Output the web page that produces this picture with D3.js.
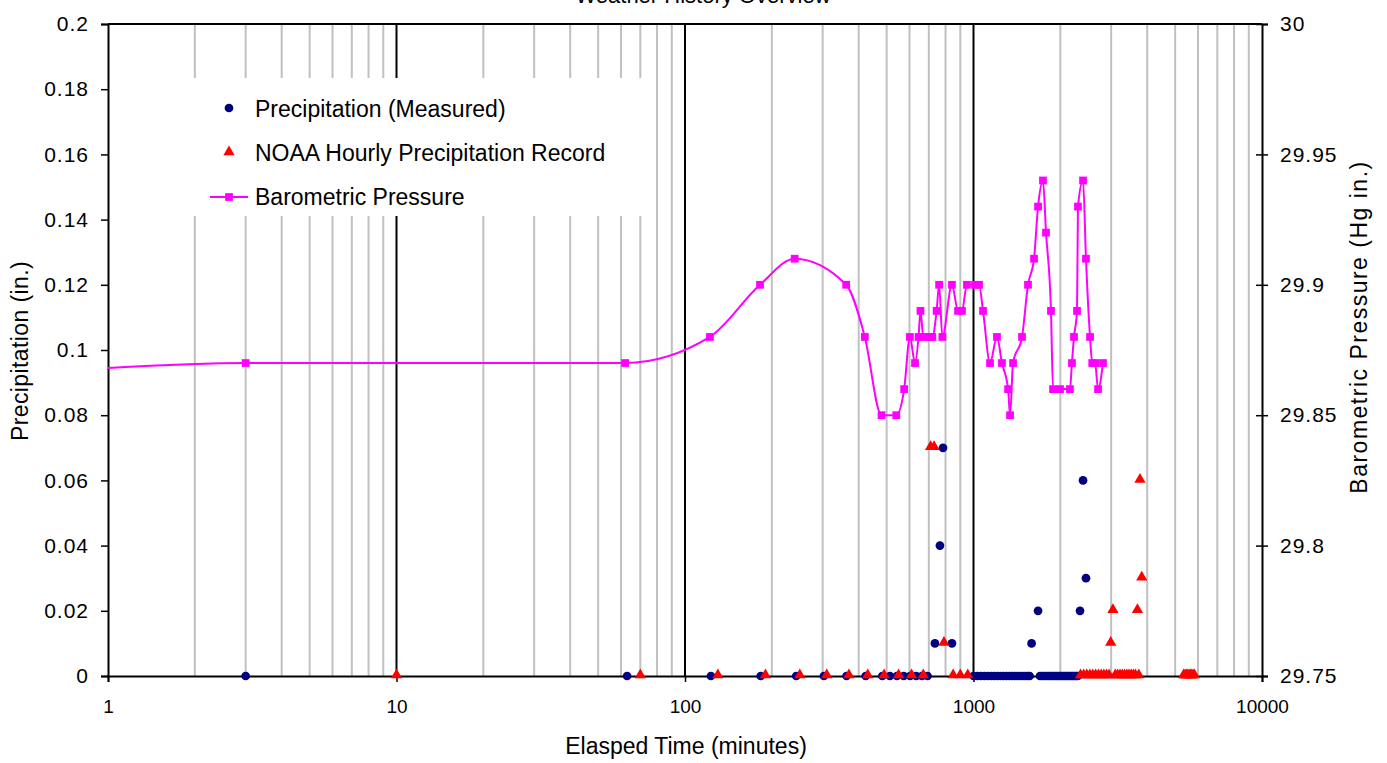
<!DOCTYPE html>
<html>
<head>
<meta charset="utf-8">
<script src="https://cdn.jsdelivr.net/npm/d3@7"></script>
<style>
  body { margin: 0; background: #fff; }
  text { font-family: "Liberation Sans", Arial, sans-serif; fill: #000; }
</style>
</head>
<body>
<svg></svg>
<script>
//Set Dimensions of svg
var width = 1387;
var height = 763;
var svg = d3.select('svg')
            .attr('width', width)
            .attr('height', height);

//Plot area
var plotLeft = 108, plotRight = 1262, plotTop = 24, plotBottom = 676;

//Tick labels
var xTicks = [1, 10, 100, 1000, 10000];
var precipTicks = [0, 0.02, 0.04, 0.06, 0.08, 0.1, 0.12, 0.14, 0.16, 0.18, 0.2];
var pressTicks = [29.75, 29.8, 29.85, 29.9, 29.95, 30];

//Precipitation (Measured)
var measTime = [3, 63, 123, 183, 243, 303, 363, 423, 483, 513, 543, 573, 603, 633, 663, 693,
  735, 765, 784, 842,
  1000, 1030, 1060, 1090, 1120, 1150, 1180, 1210, 1240, 1270, 1300, 1330, 1360, 1390, 1420,
  1450, 1480, 1510, 1540, 1565, 1590, 1674,
  1700, 1730, 1760, 1790, 1820, 1850, 1880, 1910, 1940, 1970, 2000, 2030, 2060, 2090, 2120,
  2150, 2180, 2210, 2240, 2270, 2300, 2340, 2397, 2454];
var measVal = [0, 0, 0, 0, 0, 0, 0, 0, 0, 0, 0, 0, 0, 0, 0, 0,
  0.01, 0.04, 0.07, 0.01,
  0, 0, 0, 0, 0, 0, 0, 0, 0, 0, 0, 0, 0, 0, 0,
  0, 0, 0, 0, 0, 0.01, 0.02,
  0, 0, 0, 0, 0, 0, 0, 0, 0, 0, 0, 0, 0, 0, 0,
  0, 0, 0, 0, 0, 0, 0.02, 0.06, 0.03];

//NOAA Hourly Precipitation Record
var noaaTime = [10, 70, 130, 190, 250, 310, 370, 430, 490, 550, 610, 670, 710, 730, 790, 850, 900, 955,
  2350, 2410, 2470, 2530, 2590, 2650, 2710, 2770, 2830, 2890, 2950, 2990, 3043,
  3100, 3160, 3220, 3280, 3340, 3400, 3460, 3520, 3580, 3640, 3700, 3740, 3776, 3830,
  5350, 5410, 5470, 5530, 5590, 5650, 5710, 5770, 5830];
var noaaVal = [0, 0, 0, 0, 0, 0, 0, 0, 0, 0, 0, 0, 0.07, 0.07, 0.01, 0, 0, 0,
  0, 0, 0, 0, 0, 0, 0, 0, 0, 0, 0, 0.01, 0.02,
  0, 0, 0, 0, 0, 0, 0, 0, 0, 0, 0.02, 0, 0.06, 0.03,
  0, 0, 0, 0, 0, 0, 0, 0, 0];

//Barometric Pressure
var pressTime = [0.95, 3, 62, 122, 182, 240, 362, 420, 480, 540,
  575, 602, 627, 645, 655, 670, 690, 705, 720, 745,
  760, 780, 842, 884, 912, 949, 1012, 1045, 1079, 1141,
  1206, 1255, 1318, 1339, 1371, 1473, 1545, 1621, 1674, 1741,
  1784, 1856, 1887, 1995, 2159, 2194, 2230, 2285, 2302, 2397,
  2454, 2535, 2580, 2640, 2702, 2811];
var pressVal = [29.868, 29.87, 29.87, 29.88, 29.90, 29.91, 29.90, 29.88, 29.85, 29.85,
  29.86, 29.88, 29.87, 29.88, 29.89, 29.88, 29.88, 29.88, 29.88, 29.89,
  29.90, 29.88, 29.90, 29.89, 29.89, 29.90, 29.90, 29.90, 29.89, 29.87,
  29.88, 29.87, 29.86, 29.85, 29.87, 29.88, 29.90, 29.91, 29.93, 29.94,
  29.92, 29.89, 29.86, 29.86, 29.86, 29.87, 29.88, 29.89, 29.93, 29.94,
  29.91, 29.88, 29.87, 29.87, 29.86, 29.87];

var measured = measTime.map((t, i) => ({t: t, v: measVal[i]}));
var noaa = noaaTime.map((t, i) => ({t: t, v: noaaVal[i]}));
var pressure = pressTime.map((t, i) => ({t: t, v: pressVal[i]}));

//Scales
var x = d3.scaleLog().domain([1, 10000]).range([plotLeft, plotRight]);
var yL = d3.scaleLinear().domain([0, 0.2]).range([plotBottom, plotTop]);
var yR = d3.scaleLinear().domain([29.75, 30]).range([plotBottom, plotTop]);

//Partial title, cut off at the top edge
svg.append('text')
   .attr('x', 703).attr('y', 3)
   .attr('text-anchor', 'middle')
   .style('font-size', '22px')
   .text('Weather History Overview');

//Vertical gridlines (minor grey, decades black)
var grid = svg.append('g');
grid.selectAll('line.minor')
    .data(x.ticks().filter(d => Math.abs(Math.log10(d) % 1) > 1e-6))
    .enter().append('line')
    .attr('class', 'minor')
    .attr('x1', d => x(d)).attr('x2', d => x(d))
    .attr('y1', plotTop).attr('y2', plotBottom)
    .attr('stroke', '#c0c0c0').attr('stroke-width', 2);
grid.selectAll('line.major')
    .data([10, 100, 1000])
    .enter().append('line')
    .attr('class', 'major')
    .attr('x1', d => x(d)).attr('x2', d => x(d))
    .attr('y1', plotTop).attr('y2', plotBottom)
    .attr('stroke', '#000').attr('stroke-width', 2);

//Top border
svg.append('line')
   .attr('x1', plotLeft).attr('x2', plotRight)
   .attr('y1', plotTop).attr('y2', plotTop)
   .attr('stroke', '#000').attr('stroke-width', 2);

//Legend background hides the gridlines
svg.append('rect')
   .attr('x', 186).attr('y', 78)
   .attr('width', 464).attr('height', 138)
   .attr('fill', '#fff');

//Axes
var axL = svg.append('g')
   .attr('transform', 'translate(' + plotLeft + ',0)')
   .call(d3.axisLeft(yL).tickValues(precipTicks).tickFormat(d => String(d)).tickSize(7).tickPadding(12));
var axR = svg.append('g')
   .attr('transform', 'translate(' + plotRight + ',0)')
   .call(d3.axisRight(yR).tickValues(pressTicks).tickFormat(d => String(d)).tickSize(6).tickPadding(12));
axR.selectAll('.tick line').attr('x1', -6);
var axB = svg.append('g')
   .attr('transform', 'translate(0,' + plotBottom + ')')
   .call(d3.axisBottom(x).tickValues(xTicks).tickFormat(d => String(d)).tickSize(6).tickPadding(18));

[axL, axR, axB].forEach(function(a) {
  a.select('.domain').attr('stroke', '#000').attr('stroke-width', 2);
  a.selectAll('.tick line').attr('stroke', '#000').attr('stroke-width', 1.5);
  a.selectAll('.tick text')
   .style('font-family', '"Liberation Sans", Arial, sans-serif')
   .style('font-size', '21px')
   .style('letter-spacing', '1px')
   .attr('fill', '#000');
});
axB.selectAll('.tick text').style('font-size', '19px').style('letter-spacing', '0px');

//Axis titles
svg.append('text')
   .attr('transform', 'translate(28,351) rotate(-90)')
   .attr('text-anchor', 'middle')
   .style('font-size', '23px')
   .style('letter-spacing', '0.4px')
   .text('Precipitation (in.)');
svg.append('text')
   .attr('transform', 'translate(1367,327) rotate(-90)')
   .attr('text-anchor', 'middle')
   .style('font-size', '23px')
   .style('letter-spacing', '1.5px')
   .text('Barometric Pressure (Hg in.)');
svg.append('text')
   .attr('x', 686).attr('y', 754)
   .attr('text-anchor', 'middle')
   .style('font-size', '23px')
   .text('Elasped Time (minutes)');

//Clip data to the plot area
svg.append('clipPath').attr('id', 'plot')
   .append('rect')
   .attr('x', plotLeft).attr('y', plotTop - 6)
   .attr('width', plotRight - plotLeft).attr('height', plotBottom - plotTop + 12);

var data = svg.append('g').attr('clip-path', 'url(#plot)');

//Barometric pressure line and markers
var pressLine = d3.line()
    .x(d => x(d.t))
    .y(d => yR(d.v))
    .curve(d3.curveMonotoneX);

data.append('path')
    .datum(pressure)
    .attr('d', pressLine)
    .attr('fill', 'none')
    .attr('stroke', '#ff00ff')
    .attr('stroke-width', 2);

var square = d3.symbol().type(d3.symbolSquare).size(60);
data.selectAll('path.press')
    .data(pressure)
    .enter().append('path')
    .attr('class', 'press')
    .attr('d', square)
    .attr('transform', d => 'translate(' + x(d.t) + ',' + yR(d.v) + ')')
    .attr('fill', '#ff00ff');

//Measured precipitation
var circle = d3.symbol().type(d3.symbolCircle).size(60);
data.selectAll('path.meas')
    .data(measured)
    .enter().append('path')
    .attr('class', 'meas')
    .attr('d', circle)
    .attr('transform', d => 'translate(' + x(d.t) + ',' + yL(d.v) + ')')
    .attr('fill', '#000080');

//NOAA hourly record
var tri = d3.symbol().type(d3.symbolTriangle).size(55);
data.selectAll('path.noaa')
    .data(noaa)
    .enter().append('path')
    .attr('class', 'noaa')
    .attr('d', tri)
    .attr('transform', d => 'translate(' + x(d.t) + ',' + (yL(d.v) - 1) + ')')
    .attr('fill', '#ff0000');

//Legend
var legend = svg.append('g');
legend.append('path')
      .attr('d', circle)
      .attr('transform', 'translate(229,108)')
      .attr('fill', '#000080');
legend.append('path')
      .attr('d', tri)
      .attr('transform', 'translate(229,152)')
      .attr('fill', '#ff0000');
legend.append('line')
      .attr('x1', 210).attr('x2', 248)
      .attr('y1', 197).attr('y2', 197)
      .attr('stroke', '#ff00ff').attr('stroke-width', 2);
legend.append('path')
      .attr('d', square)
      .attr('transform', 'translate(229,197)')
      .attr('fill', '#ff00ff');

var legendText = ['Precipitation (Measured)', 'NOAA Hourly Precipitation Record', 'Barometric Pressure'];
legend.selectAll('text')
      .data(legendText)
      .enter().append('text')
      .attr('x', 255)
      .attr('y', (d, i) => 117 + i * 44)
      .style('font-size', '23px')
      .text(d => d);
</script>
</body>
</html>
